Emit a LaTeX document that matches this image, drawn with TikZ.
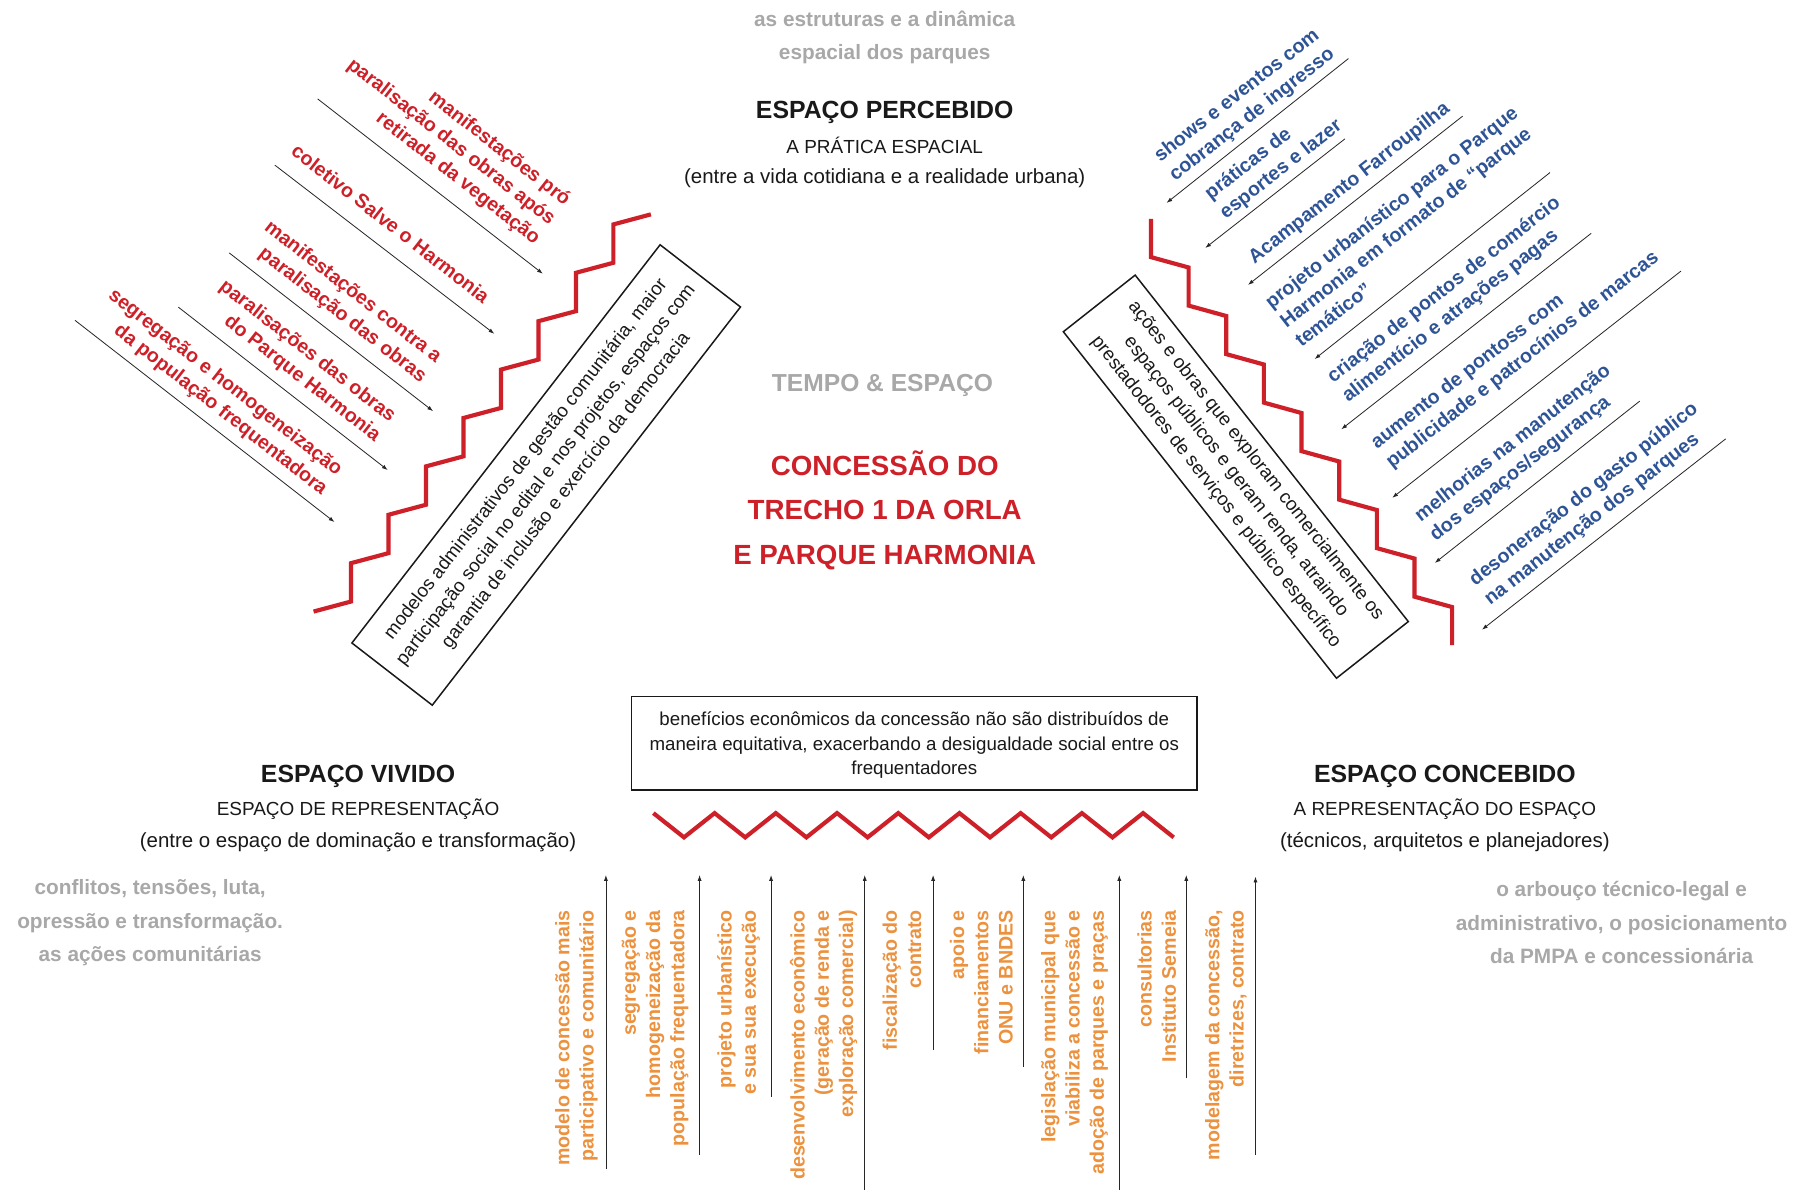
\documentclass[tikz,border=0pt]{standalone}
\usepackage{fontspec}
\setmainfont{Liberation Sans}
\usetikzlibrary{arrows.meta}
\definecolor{cred}{RGB}{205,32,40}
\definecolor{cblue}{RGB}{46,84,150}
\definecolor{corange}{RGB}{236,146,62}
\definecolor{cgray}{RGB}{168,168,168}
\definecolor{ctext}{RGB}{25,25,25}
\begin{document}
\begin{tikzpicture}[x=1pt,y=-1pt,
  zig/.style={draw=cred, line width=3.6pt, line join=miter},
  arr/.style={-{Latex[length=5pt,width=3.5pt]}, line width=0.7pt, draw=black!85},
  lbl/.style={font=\bfseries\fontsize{17}{21.2}\selectfont, inner sep=0pt},
  redlbl/.style={lbl, text=cred, rotate=-38, anchor=east, align=right},
  bluelbl/.style={lbl, text=cblue, rotate=38, anchor=west, align=left},
  orlbl/.style={lbl, text=corange, rotate=90, anchor=east, align=right, font=\bfseries\fontsize{17}{21}\selectfont},
  graytxt/.style={font=\bfseries\fontsize{18}{29}\selectfont, text=cgray, align=center, inner sep=0pt},
  headtxt/.style={font=\bfseries\fontsize{21.5}{26}\selectfont, text=ctext, inner sep=0pt},
  captxt/.style={font=\fontsize{16.4}{20}\selectfont, text=ctext, inner sep=0pt},
  partxt/.style={font=\fontsize{17.7}{20}\selectfont, text=ctext, inner sep=0pt},
  boxtxt/.style={draw=ctext, line width=1.3pt, font=\fontsize{16.3}{22}\selectfont, text=ctext, align=center, inner sep=0pt}
]
\useasboundingbox (0,0) rectangle (1568,1030);
\fill[white] (0,0) rectangle (1568,1030);

% top
\node[graytxt] (topgray) at (766,32.5) {as estruturas e a dinâmica\\espacial dos parques};
\node[headtxt] (perc) at (766,97) {ESPAÇO PERCEBIDO};
\node[captxt] (perc2) at (766,126) {A PRÁTICA ESPACIAL};
\node[partxt] (perc3) at (766,154) {(entre a vida cotidiana e a realidade urbana)};

% center
\node[font=\bfseries\fontsize{21.3}{26}\selectfont, text=cgray, inner sep=0pt] (tempo) at (764,334) {TEMPO \& ESPAÇO};
\node[font=\bfseries\fontsize{24}{38.5}\selectfont, text=cred, align=center, inner sep=0pt] (title) at (766,441.5) {CONCESSÃO DO\\TRECHO 1 DA ORLA\\E PARQUE HARMONIA};

% bottom left / right headings
\node[headtxt] (viv) at (310,672) {ESPAÇO VIVIDO};
\node[captxt] (viv2) at (310,701) {ESPAÇO DE REPRESENTAÇÃO};
\node[partxt] (viv3) at (310,729.5) {(entre o espaço de dominação e transformação)};
\node[headtxt] (conc) at (1251,672) {ESPAÇO CONCEBIDO};
\node[captxt] (conc2) at (1251,701) {A REPRESENTAÇÃO DO ESPAÇO};
\node[partxt] (conc3) at (1251,729.5) {(técnicos, arquitetos e planejadores)};

\node[graytxt] (leftgray) at (130,799) {conflitos, tensões, luta,\\opressão e transformação.\\as ações comunitárias};
\node[graytxt] (rightgray) at (1404,799) {o arbouço técnico-legal e\\administrativo, o posicionamento\\da PMPA e concessionária};

% staircases
\draw[zig] (271.5,529.5) \foreach \i in {1,...,8}{ -- ++(32.45,-8.7) -- ++(0,-33.2)} -- ++(32.45,-8.7);
\draw[zig] (996.5,189.6) -- ++(0,33) \foreach \i in {1,...,8}{ -- ++(32.6,9) -- ++(0,33)};
\draw[zig] (565.7,704) \foreach \i in {1,...,8}{ -- ++(26.5,21) -- ++(26.5,-21)} -- ++(26.5,21);

% boxes
\node[boxtxt, rotate=52.26, minimum width=436pt, minimum height=88pt] (lbox) at (472.9,411.25)
  {modelos administrativos de gestão comunitária, maior\\participação social no edital e nos projetos, espaços com\\garantia de inclusão e exercício da democracia};
\node[boxtxt, rotate=-51.75, minimum width=382pt, minimum height=79.2pt] (rbox) at (1070,412.7)
  {ações e obras que exploram comercialmente os\\espaços públicos e geram renda, atraindo\\prestadodores de serviços e público específico};
\node[boxtxt, minimum width=489.6pt, minimum height=80.8pt, font=\fontsize{16.2}{21.4}\selectfont, text depth=0pt] (bbox) at (791.6,643.6)
  {benefícios econômicos da concessão não são distribuídos de\\maneira equitativa, exacerbando a desigualdade social entre os\\frequentadores};

% left red labels and arrows
\node[redlbl] (l1) at (478.4,192) {manifestações pró\\paralisação das obras após\\retirada da vegetação};
\node[redlbl] (l2) at (421.8,258.9) {coletivo Salve o Harmonia};
\node[redlbl] (l3) at (373.5,319.9) {manifestações contra a\\paralisação das obras};
\node[redlbl] (l4) at (333.7,370.9) {paralisações das obras\\do Parque Harmonia};
\node[redlbl] (l5) at (287.5,417.3) {segregação e homogeneização\\da população frequentadora};
\coordinate (la1) at (275,85.6);   \coordinate (lb1) at (470,237);
\coordinate (la2) at (238,143);    \coordinate (lb2) at (428,289);
\coordinate (la3) at (198.5,219);  \coordinate (lb3) at (375,356);
\coordinate (la4) at (154.5,266);  \coordinate (lb4) at (335.7,407);
\coordinate (la5) at (65,277.4);   \coordinate (lb5) at (289.6,452);
\foreach \i in {1,...,5}{ \draw[arr] (la\i) -- (lb\i); }

% right blue labels and arrows
\node[bluelbl] (b1) at (1008.3,145.5) {shows e eventos com\\cobrança de ingresso};
\node[bluelbl] (b2) at (1052,178.4) {práticas de\\esportes e lazer};
\node[bluelbl] (b3) at (1083.5,225.3) {Acampamento Farroupilha};
\node[bluelbl] (b4) at (1110,279.7) {projeto urbanístico para o Parque\\Harmonia em formato de “parque\\temático”};
\node[bluelbl] (b5) at (1158.1,337) {criação de pontos de comércio\\alimentício e atrações pagas};
\node[bluelbl] (b6) at (1196,394.2) {aumento de pontoss com\\publicidade e patrocínios de marcas};
\node[bluelbl] (b7) at (1233.8,457.1) {melhorias na manutenção\\dos espaços/segurança};
\node[bluelbl] (b8) at (1281,512.5) {desoneração do gasto público\\na manutenção dos parques};
\coordinate (ra1) at (1167.5,50.7);  \coordinate (rb1) at (1010,175.7);
\coordinate (ra2) at (1164.5,120.2); \coordinate (rb2) at (1043.5,214.7);
\coordinate (ra3) at (1266.3,100.6); \coordinate (rb3) at (1080.5,246.7);
\coordinate (ra4) at (1342,149.4);   \coordinate (rb4) at (1138.2,310.9);
\coordinate (ra5) at (1377.7,202);   \coordinate (rb5) at (1161.3,371.7);
\coordinate (ra6) at (1455.4,234.7); \coordinate (rb6) at (1205.4,431);
\coordinate (ra7) at (1419.7,347.3); \coordinate (rb7) at (1242.3,487.4);
\coordinate (ra8) at (1494.1,380);   \coordinate (rb8) at (1283.1,545.2);
\foreach \i in {1,...,8}{ \draw[arr] (ra\i) -- (rb\i); }

% bottom orange labels and arrows
\node[orlbl] (o1) at (499,788) {modelo de concessão mais\\participativo e comunitário};
\node[orlbl] (o2) at (567.1,788) {segregação e\\homogeneização da\\população frequentadora};
\node[orlbl] (o3) at (639.5,788) {projeto urbanístico\\e sua sua execução};
\node[orlbl] (o4) at (713,788) {desenvolvimento econômico\\(geração de renda e\\exploração comercial)};
\node[orlbl] (o5) at (781,788) {fiscalização do\\contrato};
\node[orlbl] (o6) at (849.7,788) {apoio e\\financiamentos\\ONU e BNDES};
\node[orlbl] (o7) at (930.4,788) {legislação municipal que\\viabiliza a concessão e\\adoção de parques e praças};
\node[orlbl] (o8) at (1001.5,788) {consultorias\\Instituto Semeia};
\node[orlbl] (o9) at (1061.5,788) {modelagem da concessão,\\diretrizes, contrato};
\coordinate (ua1) at (524.6,1012.4); \coordinate (ub1) at (524.6,757.6);
\coordinate (ua2) at (605.7,1000);   \coordinate (ub2) at (605.7,757.6);
\coordinate (ua3) at (667.6,949.5);  \coordinate (ub3) at (667.6,757.6);
\coordinate (ua4) at (748.7,1031);   \coordinate (ub4) at (748.7,757.6);
\coordinate (ua5) at (807.9,909);    \coordinate (ub5) at (807.9,757.6);
\coordinate (ua6) at (886,923.5);    \coordinate (ub6) at (886,757.6);
\coordinate (ua7) at (969.1,1031);   \coordinate (ub7) at (969.1,757.6);
\coordinate (ua8) at (1027.1,933.6); \coordinate (ub8) at (1027.1,757.6);
\coordinate (ua9) at (1087,1000);    \coordinate (ub9) at (1087,759);
\foreach \i in {1,...,9}{ \draw[arr] (ua\i) -- (ub\i); }
\end{tikzpicture}
\end{document}
